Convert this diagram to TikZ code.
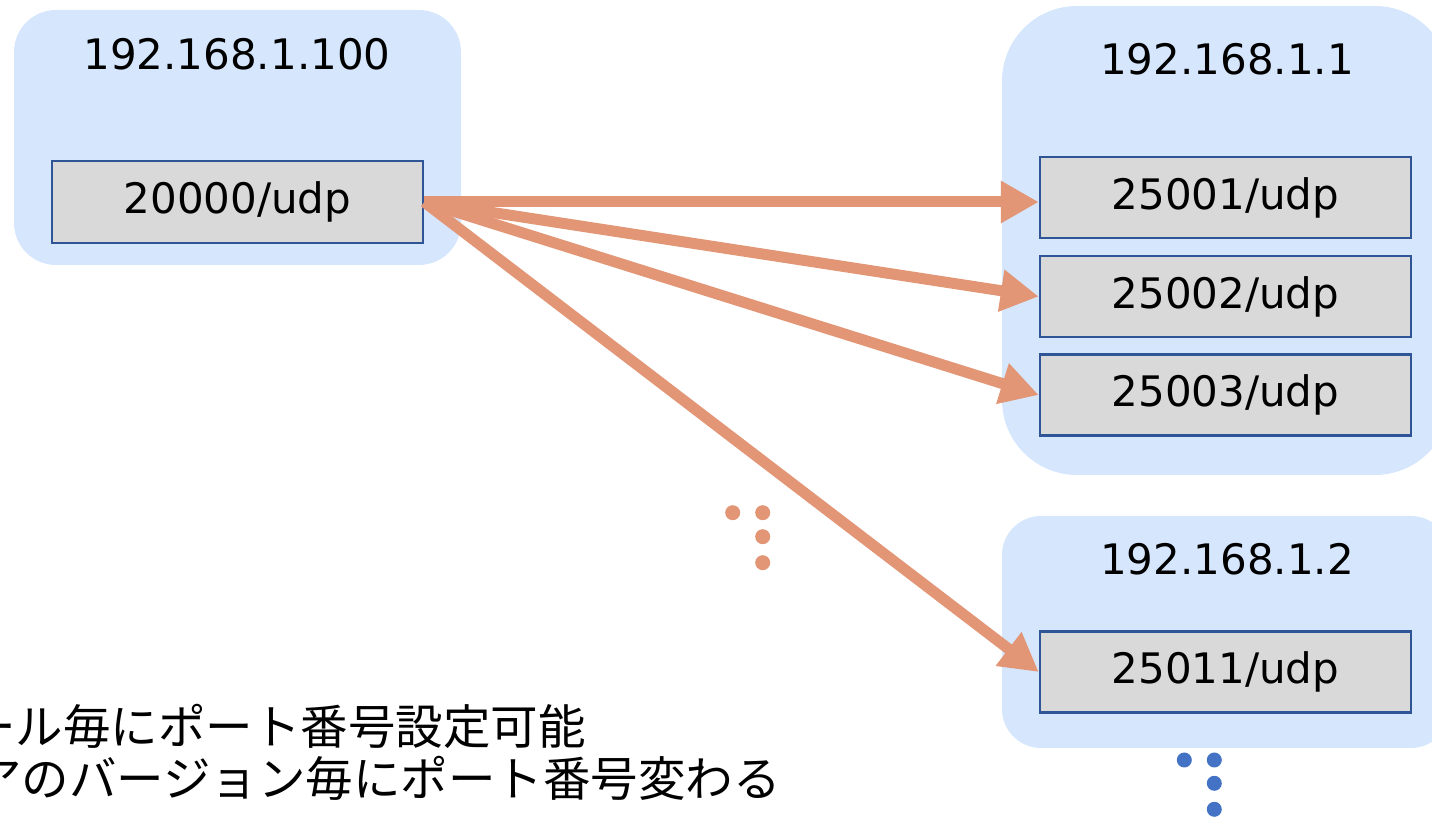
\documentclass[tikz,border=0pt]{standalone}
\usepackage{fontspec}
\setmainfont{DejaVu Sans}
\newfontfamily\jp{Noto Sans CJK JP}
\usetikzlibrary{arrows.meta}
\definecolor{hostfill}{HTML}{D6E7FD}
\definecolor{portfill}{HTML}{D9D9D9}
\definecolor{portline}{HTML}{2F5597}
\definecolor{flow}{HTML}{E29676}
\definecolor{moreblue}{HTML}{4472C4}
\tikzset{
  host/.style={fill=hostfill, draw=none, inner sep=0, minimum width=224pt},
  port/.style={fill=portfill, draw=portline, line width=1.25pt, inner sep=0,
    minimum width=185.5pt, minimum height=40.5pt, font=\fontsize{21pt}{25pt}\selectfont},
  addr/.style={anchor=base, inner sep=0, font=\fontsize{21pt}{25pt}\selectfont},
  flowarrow/.style={draw=flow, line width=5.5pt,
    -{Triangle[length=19pt,width=20pt]}},
  note/.style={anchor=base west, inner sep=0, font=\jp\fontsize{23.75pt}{28pt}\selectfont},
  dot/.style={circle, inner sep=0, minimum size=7.5pt}
}
\begin{document}
\begin{tikzpicture}[x=0.5pt, y=-0.5pt]
\useasboundingbox (0,0) rectangle (1432,817);

% hosts
\node[host, minimum width=223.5pt, minimum height=127.5pt, rounded corners=21pt] (h0) at (237.5,137.5) {};
\node[host, minimum height=234.5pt, rounded corners=37.5pt] (h1) at (1226,240.5) {};
\node[host, minimum height=116pt, rounded corners=19.5pt] (h2) at (1226,632) {};

\node[addr] (a0) at (237,70) {192.168.1.100};
\node[addr] (a1) at (1227,75) {192.168.1.1};
\node[addr] (a2) at (1227,575) {192.168.1.2};

% ports
\node[port, minimum height=41pt] (p0) at (237.5,202) {20000/udp};
\node[port] (p1) at (1225.5,197.5) {25001/udp};
\node[port] (p2) at (1225.5,296.5) {25002/udp};
\node[port] (p3) at (1225.5,395) {25003/udp};
\node[port] (p11) at (1225.5,672) {25011/udp};

% flows
\draw[flowarrow] (p0.east) -- (p0.east -| p1.west);
\draw[flowarrow] (p0.east) -- (p2.west);
\draw[flowarrow] (p0.east) -- (p3.west);
\draw[flowarrow] (p0.east) -- (p11.west);

% continuation marks
\node[dot, fill=flow] (o1) at (732.7,512.7) {};
\node[dot, fill=flow] (o2) at (762.7,512.7) {};
\node[dot, fill=flow] (o3) at (762.7,536.7) {};
\node[dot, fill=flow] (o4) at (762.7,562.7) {};
\node[dot, fill=moreblue] (b1) at (1184.3,760) {};
\node[dot, fill=moreblue] (b2) at (1214.3,760) {};
\node[dot, fill=moreblue] (b3) at (1214.3,783.3) {};
\node[dot, fill=moreblue] (b4) at (1214.3,809.3) {};

% notes
\node[note] (n1) at (-32,745) {ール毎にポート番号設定可能};
\node[note] (n2) at (-26,797) {アのバージョン毎にポート番号変わる};
\end{tikzpicture}
\end{document}
